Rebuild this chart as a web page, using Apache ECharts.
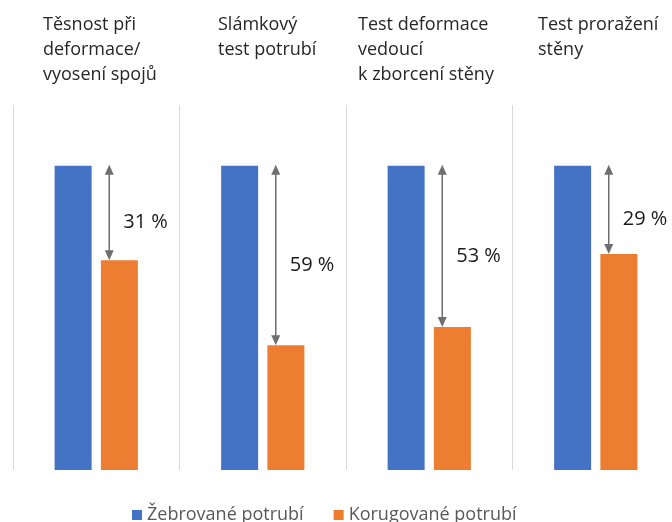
<!DOCTYPE html>
<html>
<head>
<meta charset="utf-8">
<script src="https://cdn.jsdelivr.net/npm/echarts@6/dist/echarts.min.js"></script>
<style>
  html, body { margin: 0; padding: 0; background: #ffffff; overflow: hidden; }
  #chart { width: 680px; height: 522px; }
</style>
</head>
<body>
<div id="chart"></div>
<script>
// data
const categories = ['Těsnost při\ndeformace/\nvyosení spojů', 'Slámkový\ntest potrubí', 'Test deformace\nvedoucí\nk zborcení stěny', 'Test proražení\nstěny']
const ribbed = [100, 100, 100, 100]
const corrugated = [69, 41, 47, 71]
const dropLabels = ['31 %', '59 %', '53 %', '29 %']
const seriesNames = ['Žebrované potrubí', 'Korugované potrubí']

// where the heading text boxes start (left edge, px)
const titleLeft = [43, 218, 358, 538]

// the last group runs past the right edge of the picture, so the chart is a bit wider than the window
let chart = echarts.init(document.getElementById('chart'))

let arrowData = categories.map((c, i) => [i, ribbed[i], corrugated[i]])

let option = {
  backgroundColor: '#ffffff',
  animation: false,
  color: ['#4472C4', '#ED7D31'],
  textStyle: {
    fontFamily: '"Open Sans", "Noto Sans", sans-serif'
  },
  grid: {
    left: 13,
    top: 105,
    width: 666,
    bottom: 52
  },
  legend: {
    data: seriesNames,
    top: 501,
    left: 127,
    itemWidth: 10,
    itemHeight: 10,
    itemGap: 30,
    icon: 'rect',
    textStyle: {
      fontSize: 18,
      color: '#595959'
    }
  },
  graphic: categories.map((c, i) => ({
    type: 'text',
    left: titleLeft[i],
    top: 12,
    style: {
      text: c,
      font: '18px "Open Sans", "Noto Sans", sans-serif',
      fill: '#262626',
      lineHeight: 25
    }
  })),
  xAxis: {
    type: 'category',
    data: categories,
    axisLine: { show: false },
    axisTick: { show: false },
    axisLabel: { show: false },
    splitLine: {
      show: true,
      interval: 0,
      lineStyle: { color: '#d9d9d9', width: 1 }
    }
  },
  yAxis: {
    type: 'value',
    min: 0,
    max: 120,
    show: false,
    splitLine: { show: false }
  },
  series: [
    {
      name: seriesNames[0],
      type: 'bar',
      barWidth: 37,
      barGap: '25%',
      data: ribbed
    },
    {
      name: seriesNames[1],
      type: 'bar',
      barWidth: 37,
      barGap: '25%',
      data: corrugated
    },
    {
      type: 'custom',
      silent: true,
      data: arrowData,
      renderItem: function (params, api) {
        let i = api.value(0)
        let top = api.coord([i, api.value(1)])
        let bot = api.coord([i, api.value(2)])
        let x = top[0] + 13
        let y1 = top[1] - 1
        let y2 = bot[1]
        let head = 10
        let half = 4.5
        let col = '#6f6f6f'
        return {
          type: 'group',
          children: [
            {
              type: 'line',
              shape: { x1: x, y1: y1 + head - 1, x2: x, y2: y2 - head + 1 },
              style: { stroke: col, lineWidth: 1.5 }
            },
            {
              type: 'polygon',
              shape: { points: [[x, y1], [x - half, y1 + head], [x + half, y1 + head]] },
              style: { fill: col }
            },
            {
              type: 'polygon',
              shape: { points: [[x, y2], [x - half, y2 - head], [x + half, y2 - head]] },
              style: { fill: col }
            },
            {
              type: 'text',
              x: x + 14,
              y: (y1 + y2) / 2 + 10,
              style: {
                text: dropLabels[i],
                font: '20px "Open Sans", "Noto Sans", sans-serif',
                fill: '#1a1a1a',
                verticalAlign: 'middle',
                align: 'left'
              }
            }
          ]
        }
      }
    }
  ]
}
chart.setOption(option)
</script>
</body>
</html>
